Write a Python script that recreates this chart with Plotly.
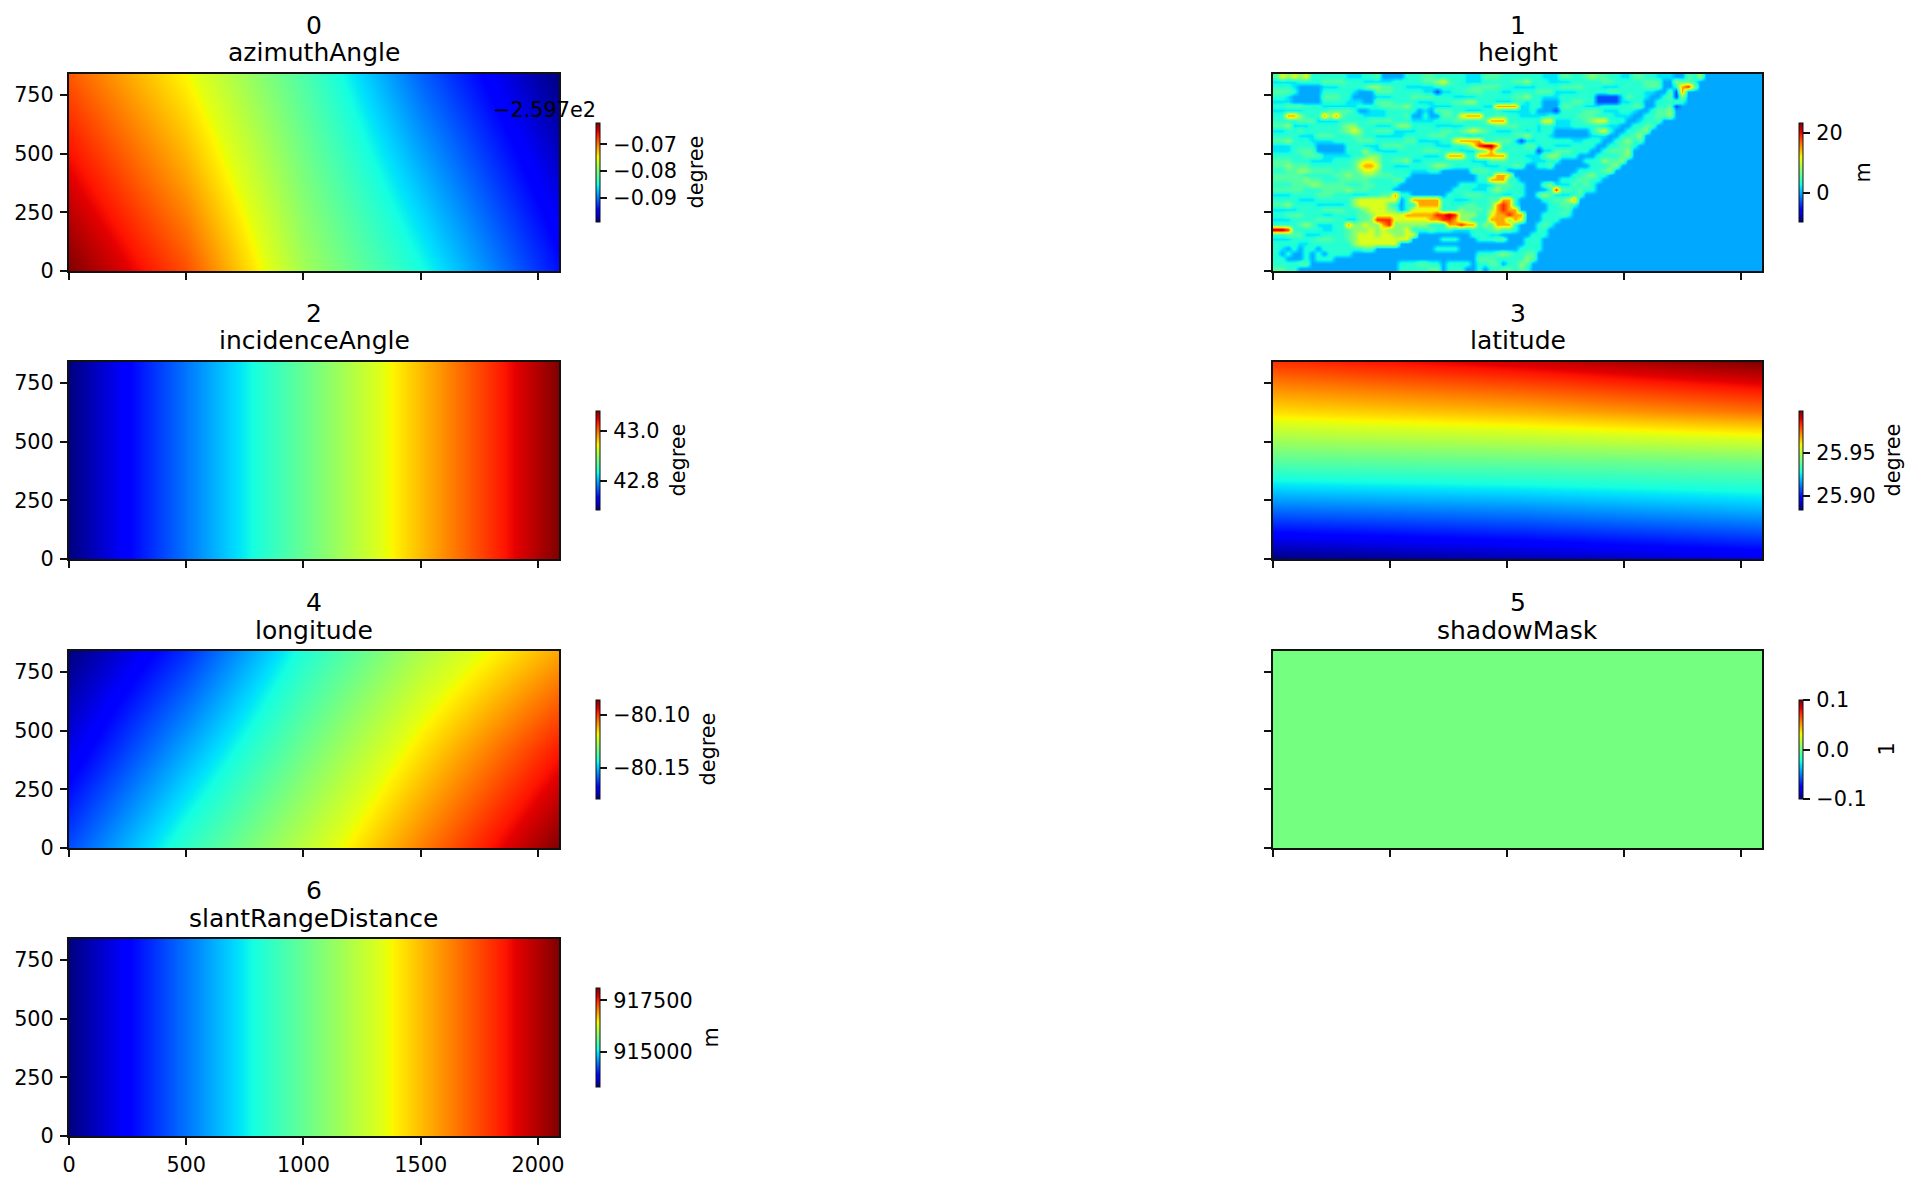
import plotly.graph_objects as go

W, H = 1919, 1186
FONT = "DejaVu Sans"

# matplotlib "jet"
JET = [[0.0, "rgb(0,0,128)"], [0.11, "rgb(0,0,255)"], [0.125, "rgb(0,0,255)"], [0.34, "rgb(0,219,255)"],
       [0.35, "rgb(0,229,247)"], [0.375, "rgb(20,255,226)"], [0.64, "rgb(226,255,20)"], [0.65, "rgb(237,255,0)"],
       [0.66, "rgb(255,245,0)"], [0.89, "rgb(255,19,0)"], [0.91, "rgb(229,0,0)"], [1.0, "rgb(128,0,0)"]]

PANEL_NUMBERS = ["0", "1", "2", "3", "4", "5", "6"]
PANEL_NAMES = ["azimuthAngle", "height", "incidenceAngle", "latitude", "longitude", "shadowMask", "slantRangeDistance"]
PANEL_UNITS = ["degree", "m", "degree", "degree", "degree", "1", "m"]
UNIT_X_PIXELS = [695, 1862, 677, 1892, 707, 1886, 710]

X_TICKS = [0, 500, 1000, 1500, 2000]
Y_TICKS = [0, 250, 500, 750]

GRID_X = [0, 500, 1000, 1500, 2090]
GRID_X2 = [0, 2090]
GRID_X3 = [0, 1045, 2090]
GRID_Y2 = [0, 840]
GRID_Y3 = [0, 420, 840]
GRID_Y5 = [0, 210, 420, 630, 840]

# azimuthAngle, relative to the -2.597e2 offset
AZIMUTH = [[-0.0620, -0.0683, -0.0784, -0.0851, -0.0940],
           [-0.0653, -0.0717, -0.0804, -0.0880, -0.0966],
           [-0.0687, -0.0748, -0.0825, -0.0910, -0.0992]]
INCIDENCE = [[42.683, 42.778, 42.872, 42.967, 43.078],
             [42.683, 42.778, 42.872, 42.967, 43.078]]
LATITUDE = [[25.883, 25.888, 25.893],
            [25.910, 25.913, 25.918],
            [25.937, 25.939, 25.941],
            [25.963, 25.968, 25.976],
            [25.983, 25.991, 25.9996]]
LONGITUDE = [[-80.1610, -80.1413, -80.1244, -80.1066, -80.0860],
             [-80.1713, -80.1525, -80.1338, -80.1160, -80.0968],
             [-80.1797, -80.1638, -80.1432, -80.1263, -80.1104]]
SHADOW = [[0, 0], [0, 0]]
SLANT = [[913279, 914432, 915585, 916738, 918100],
         [913279, 914432, 915585, 916738, 918100]]

# height, read as levels on a coarse grid (top row first); sea fills the rest of each row
HEIGHT_LEVELS = {".": -0.2, "b": -3.2, "2": 1.8, "3": 3.4, "4": 5.2, "5": 7.6, "6": 11.0, "7": 14.7, "8": 19.0, "9": 22.3}
HEIGHT_COLUMNS = 82
HEIGHT_ROWS = [
    "4656563333 33222334.. ..33344333 3322244433 3333322244 3345443322 4433222..4 35",
    "2222333344 4433322222 3333344564 3322233333 4453332222 3333344333 33444..544 3",
    "3332....22 2333345544 3322222333 3334444433 2222333344 4433322233 33444..378 5",
    "4443....33 3332...444 3333322b22 3344433322 3333444222 2333334433 3322..4b7",
    "332.....44 433....222 3334444333 2222333333 4453322233 3333bbbb24 332..34b5",
    "222.....33 33222..444 3333222333 4455333222 33233...33 4433bbbb22 33..33343",
    "3344433322 2222333344 4453332222 3333322777 72233...44 3322233333 44..334b",
    "2222233334 4443..2223 3333.2.444 3322233322 2223...b33 3344422233 2..3445",
    "3377533375 7433322223 334..3..44 3677733443 3222223333 3444333222 ..33445",
    "3333444222 2333334444 3332222333 4433347773 3333366222 334566333. .2334",
    "4452223333 3455333222 4553333222 2233333444 4333233222 33333222.. 3344",
    "2233433333 3456533444 2222333344 3456543222 3323233... ...3563..3 345",
    "3333222444 3334433222 2233334443 3322233333 4453332... ...222..33 45",
    "4453332222 3333444333 3344222233 6777733444 2b22333333 22333..345 34",
    "2223333... ..33322244 4433333222 3346899733 3344233222 3333..3344 3",
    "2223444... ..33353222 2333344433 3222457433 3333b22444 333..34445",
    "3333344422 2223345533 3333322237 7733777773 3322245533 3...333345",
    "4443332222 3334566533 4452233333 3332224443 33322233.. ..3335445",
    "4454443333 3334677633 2223334554 3333322233 44..334... ...33345",
    "3344554444 3444566533 33322233.. ...444333. .......... .333345",
    "4444433333 4454455444 333....... ....333776 .......... 334533",
    "4444454433 3444443333 44........ ....337773 3.......33 34433",
    "3334445544 4433344333 3......... .333222444 33...45222 4343",
    "4444433344 4454443333 .......... 3332224543 33....3844 3433",
    "2223333444 3332223344 733......3 3344433322 33..454222 34",
    "3333222333 3335666666 6.37777733 2223334477 3....33445 7",
    "4453333222 2235666664 3.33777733 3344334787 3.....3344 3",
    "2222333344 4433456665 4.36666633 3544435787 7.....3334",
    "3344433322 3333445666 6677777889 8555336778 77...33343",
    "2223333444 3322445888 6666667788 7553337775 76...333",
    "3333454222 3375565578 5555553337 7877354777 3...343",
    "9983333322 3345556565 5563334333 2223334544 3...33",
    "3344422233 3345666566 5566...... ...33322.. ...333",
    "2223333444 3345666666 666.....33 3...33344. ..333",
    "3333223333 3335666666 6......... .......... ..333",
    "32.3.33.33 3333344... .......333 3......... .3333",
    "3.3..3.3.3 333....... .......... ....333454 3344",
    "33...3.333 .......... .......... ....444333 3354",
    "333344.... .......... .3334433.3 333.3344.3 354",
    "4433...... .......... .3333344.3 33..3.3344 343",
]

# colorbar ranges and ticks
AZIMUTH_RANGE = [-0.0992, -0.0620]
AZIMUTH_TICKS = [-0.09, -0.08, -0.07]
AZIMUTH_LABELS = ["−0.09", "−0.08", "−0.07"]
HEIGHT_RANGE = [-9.8, 23.3]
HEIGHT_TICKS = [0, 20]
HEIGHT_LABELS = ["0", "20"]
INCIDENCE_RANGE = [42.683, 43.078]
INCIDENCE_TICKS = [42.8, 43.0]
INCIDENCE_LABELS = ["42.8", "43.0"]
LATITUDE_RANGE = [25.883, 25.9996]
LATITUDE_TICKS = [25.90, 25.95]
LATITUDE_LABELS = ["25.90", "25.95"]
LONGITUDE_RANGE = [-80.1797, -80.0860]
LONGITUDE_TICKS = [-80.15, -80.10]
LONGITUDE_LABELS = ["−80.15", "−80.10"]
SHADOW_RANGE = [-0.1, 0.1]
SHADOW_TICKS = [-0.1, 0.0, 0.1]
SHADOW_LABELS = ["−0.1", "0.0", "0.1"]
SLANT_RANGE = [913279, 918100]
SLANT_TICKS = [915000, 917500]
SLANT_LABELS = ["915000", "917500"]
OFFSET_TEXT = "−2.597e2"

height_z = []
for row in reversed(HEIGHT_ROWS):
    cells = row.replace(" ", "").ljust(HEIGHT_COLUMNS, ".")
    height_z.append([HEIGHT_LEVELS[c] for c in cells[:HEIGHT_COLUMNS]])

FIELDS = [
    dict(x=GRID_X, y=GRID_Y3, z=AZIMUTH, r=AZIMUTH_RANGE, t=AZIMUTH_TICKS, l=AZIMUTH_LABELS),
    dict(x0=12.75, dx=25.5, y0=10.5, dy=21, z=height_z, r=HEIGHT_RANGE, t=HEIGHT_TICKS, l=HEIGHT_LABELS),
    dict(x=GRID_X, y=GRID_Y2, z=INCIDENCE, r=INCIDENCE_RANGE, t=INCIDENCE_TICKS, l=INCIDENCE_LABELS),
    dict(x=GRID_X3, y=GRID_Y5, z=LATITUDE, r=LATITUDE_RANGE, t=LATITUDE_TICKS, l=LATITUDE_LABELS),
    dict(x=GRID_X, y=GRID_Y3, z=LONGITUDE, r=LONGITUDE_RANGE, t=LONGITUDE_TICKS, l=LONGITUDE_LABELS),
    dict(x=GRID_X2, y=GRID_Y2, z=SHADOW, r=SHADOW_RANGE, t=SHADOW_TICKS, l=SHADOW_LABELS),
    dict(x=GRID_X, y=GRID_Y2, z=SLANT, r=SLANT_RANGE, t=SLANT_TICKS, l=SLANT_LABELS),
]

LEFT = [(69, 559), (1273, 1762)]
TOP = [(74, 271), (362, 559), (651, 848), (939, 1136)]
TICK_SIZE = 20.8
TITLE_SIZE = 25.0
LINE = "#111111"
HAIR = "\u200a"

fig = go.Figure()
annotations = []
layout = {}
for i, f in enumerate(FIELDS):
    row, col = i // 2, i % 2
    x0, x1 = LEFT[col]
    y0, y1 = TOP[row]
    suffix = "" if i == 0 else str(i + 1)
    fig.add_trace(go.Heatmap(
        z=f["z"],
        **{k: f[k] for k in ("x", "y", "x0", "dx", "y0", "dy") if k in f},
        xaxis="x" + suffix, yaxis="y" + suffix,
        colorscale=JET, zmin=f["r"][0], zmax=f["r"][1], zsmooth="best",
        colorbar=dict(
            x=(x1 + 36.5) / W, xanchor="left", xpad=0, ypad=0,
            y=1 - (y0 + y1) / 2 / H, yanchor="middle",
            thickness=4, thicknessmode="pixels", len=98.5, lenmode="pixels",
            outlinewidth=1, outlinecolor=LINE,
            tickmode="array", tickvals=f["t"], ticktext=[HAIR + s for s in f["l"]],
            ticks="outside", ticklen=7, tickwidth=1.6, tickcolor=LINE,
            tickfont=dict(family=FONT, size=TICK_SIZE, color="black"),
        ),
    ))
    axis = dict(showline=True, mirror=True, linecolor=LINE, linewidth=2, showgrid=False, zeroline=False,
                automargin=False, ticks="outside", ticklen=7, tickwidth=1.6, tickcolor=LINE,
                ticklabelstandoff=2,
                tickfont=dict(family=FONT, size=TICK_SIZE, color="black"))
    layout["xaxis" + suffix] = dict(axis, domain=[x0 / W, x1 / W], range=[0, 2090], tickmode="array", tickvals=X_TICKS,
                                    ticktext=[str(v) for v in X_TICKS], showticklabels=(i == 6),
                                    anchor="y" + suffix)
    layout["yaxis" + suffix] = dict(axis, domain=[1 - y1 / H, 1 - y0 / H], range=[0, 840], tickmode="array", tickvals=Y_TICKS,
                                    ticktext=[str(v) for v in Y_TICKS], showticklabels=(col == 0),
                                    anchor="x" + suffix)
    cx = (x0 + x1) / 2 / W
    for text, dy in ((PANEL_NUMBERS[i], 48.5), (PANEL_NAMES[i], 21)):
        annotations.append(dict(text=text, x=cx, y=1 - (y0 - dy) / H, xref="paper", yref="paper", showarrow=False,
                                xanchor="center", yanchor="middle", font=dict(family=FONT, size=TITLE_SIZE, color="black")))
    annotations.append(dict(text=PANEL_UNITS[i], x=UNIT_X_PIXELS[i] / W, y=1 - (y0 + y1) / 2 / H, xref="paper", yref="paper",
                            showarrow=False, textangle=-90, xanchor="center", yanchor="middle",
                            font=dict(family=FONT, size=TICK_SIZE, color="black")))

annotations.append(dict(text=OFFSET_TEXT, x=597.5 / W, y=1 - 110 / H, xref="paper", yref="paper", showarrow=False,
                        xanchor="right", yanchor="middle", font=dict(family=FONT, size=TICK_SIZE, color="black")))

fig.update_layout(width=W, height=H, margin=dict(l=0, r=0, t=0, b=0), paper_bgcolor="white", plot_bgcolor="white",
                  annotations=annotations, font=dict(family=FONT), **layout)
fig.write_html("out.html", config=dict(displayModeBar=False),
               post_script="document.body.style.margin='0';document.body.style.overflow='hidden';")
